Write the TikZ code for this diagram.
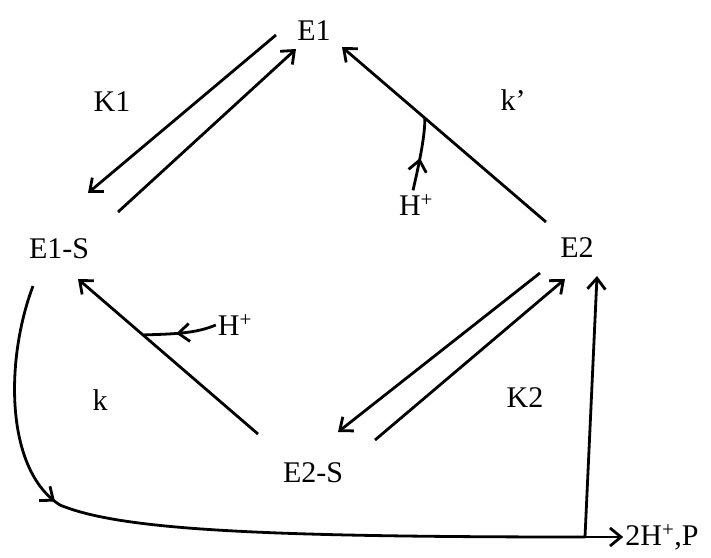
\documentclass[tikz,border=0pt]{standalone}
\usepackage{fontspec}
\setmainfont{Liberation Serif}
\usetikzlibrary{arrows.meta, calc, decorations.markings}

\tikzset{
  lbl/.style={font=\fontsize{30}{32}\selectfont, inner sep=2pt},
  rx/.style={-{Straight Barb[length=11pt, width=18pt]}, line width=2.8pt},
  plain/.style={line width=2.8pt},
  midarrow/.style={postaction={decorate, decoration={markings,
      mark=at position #1 with {\arrow{Straight Barb[length=11pt, width=18pt, line width=2.8pt]}}}}}
}

\begin{document}
\begin{tikzpicture}[x=1pt, y=-1pt]
  \useasboundingbox (0,0) rectangle (711,557);
  % species
  \node[lbl] (E1) at (314,31) {E1};
  \node[lbl] (E1S) at (59,249) {E1-S};
  \node[lbl] (E2) at (577,248) {E2};
  \node[lbl] (E2S) at (313,473) {E2-S};
  \node[lbl] (prod) at (662,537) {2H\textsuperscript{+},P};
  % rate labels
  \node[lbl] (K1) at (112,102) {K1};
  \node[lbl] (kp) at (513,100) {k’};
  \node[lbl] (k) at (100,400) {k};
  \node[lbl] (K2) at (525,398) {K2};
  \node[lbl] (hA) at (416,205) {H\textsuperscript{+}};
  \node[lbl] (hB) at (235,325) {H\textsuperscript{+}};
  % binding equilibria
  \draw[rx] ($(E1)+(-38,4)$) -- ($(E1S)+(29,-56)$);
  \draw[rx] ($(E1S)+(59,-37)$) -- ($(E1)+(-18,18)$);
  \draw[rx] ($(E2)+(-37,25)$) -- ($(E2S)+(25,-41)$);
  \draw[rx] ($(E2S)+(62,-33)$) -- ($(E2)+(-12,31)$);
  % proton driven steps
  \draw[rx] ($(E2)+(-31,-26)$) coordinate (kpA) -- ($(E1)+(28,16)$) coordinate (kpB);
  \coordinate (jA) at ($(kpA)!0.594!(kpB)$);
  \draw[plain, midarrow=0.45] ($(hA.north)+(-3,-2)$) .. controls (420,160) and (425,135) .. (jA);
  \draw[rx] ($(E2S)+(-55,-39)$) coordinate (kA) -- ($(E1S)+(19,30)$) coordinate (kB);
  \coordinate (jB) at ($(kA)!0.639!(kB)$);
  \draw[plain, midarrow=0.55] (hB.west) .. controls (195,334) and (170,334) .. (jB);
  % product release
  \coordinate (J) at (585,537);
  \draw[plain, midarrow=0.3] ($(E1S)+(-26,37)$) .. controls (5,360) and (5,470) .. (60,505)
    .. controls (120,530) and (260,537) .. (J);
  \draw[rx] (J) -- (prod.west);
  \draw[rx] (J) -- ($(E2)+(20,28)$);
\end{tikzpicture}
\end{document}
